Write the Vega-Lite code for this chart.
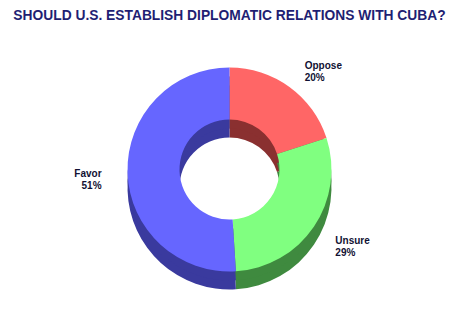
{
  "$schema": "https://vega.github.io/schema/vega-lite/v6.json",
  "autosize": {"type": "fit", "contains": "padding"},
  "width": 459,
  "height": 334,
  "padding": {"top": 9, "left": 5, "right": 5, "bottom": 30},
  "background": "white",
  "title": {
    "text": "SHOULD U.S. ESTABLISH DIPLOMATIC RELATIONS WITH CUBA?",
    "font": "Liberation Sans",
    "fontSize": 13.8,
    "fontWeight": "bold",
    "color": "#1f1f73",
    "anchor": "middle",
    "offset": 12
  },
  "data": {
    "values": [
      {"category": "Oppose", "value": 20, "order": 1},
      {"category": "Unsure", "value": 29, "order": 2},
      {"category": "Favor", "value": 51, "order": 3}
    ]
  },
  "transform": [
    {"calculate": "datum.category + '\\n' + datum.value + '%'", "as": "label"}
  ],
  "encoding": {
    "theta": {"field": "value", "type": "quantitative", "stack": true},
    "order": {"field": "order", "type": "quantitative"}
  },
  "layer": [
    {
      "mark": {"type": "arc", "outerRadius": 102, "innerRadius": 50, "yOffset": 18},
      "encoding": {
        "color": {
          "field": "category",
          "type": "nominal",
          "scale": {"domain": ["Oppose", "Unsure", "Favor"], "range": ["#8a3030", "#3f8a3f", "#3a3a9e"]},
          "legend": null
        }
      }
    },
    {
      "mark": {"type": "arc", "outerRadius": 102, "innerRadius": 50, "yOffset": 9},
      "encoding": {
        "color": {
          "field": "category",
          "type": "nominal",
          "scale": {"domain": ["Oppose", "Unsure", "Favor"], "range": ["#8a3030", "#3f8a3f", "#3a3a9e"]},
          "legend": null
        }
      }
    },
    {
      "mark": {"type": "arc", "outerRadius": 102, "innerRadius": 50},
      "encoding": {
        "color": {
          "field": "category",
          "type": "nominal",
          "scale": {"domain": ["Oppose", "Unsure", "Favor"], "range": ["#ff6666", "#80ff80", "#6666ff"]},
          "legend": null
        }
      }
    },
    {
      "mark": {
        "type": "text",
        "radius": 128,
        "font": "Liberation Sans",
        "fontSize": 10,
        "fontWeight": "bold",
        "color": "#111133",
        "lineBreak": "\n",
        "align": {"expr": "datum.category == 'Favor' ? 'right' : 'left'"},
        "baseline": "middle"
      },
      "encoding": {
        "text": {"field": "label", "type": "nominal"}
      }
    }
  ],
  "resolve": {"scale": {"color": "independent"}},
  "config": {"view": {"stroke": null}}
}
